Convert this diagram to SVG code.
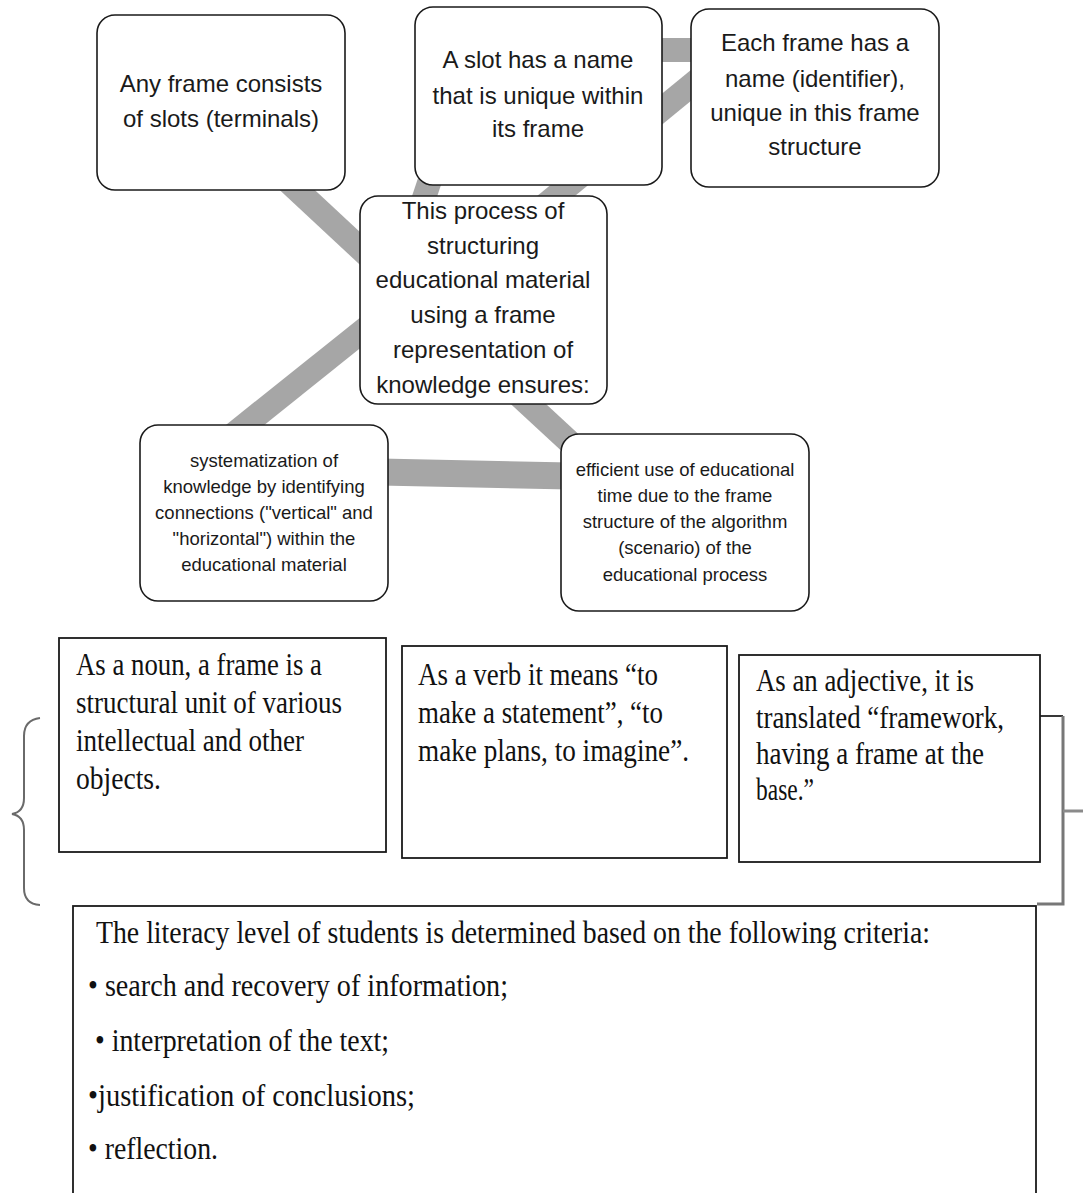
<svg xmlns="http://www.w3.org/2000/svg" width="1083" height="1193" viewBox="0 0 1083 1193">
<style>
.bg{fill:#fff}
.rbox{fill:#fff;stroke:#1a1a1a;stroke-width:1.6}
.sbox{fill:#fff;stroke:#1a1a1a;stroke-width:1.8}
.conn{stroke:#a6a6a6;stroke-width:24;fill:none}
.sans{font-family:"Liberation Sans",Arial,sans-serif;fill:#1a1a1a;text-anchor:middle}
.big{font-size:24px}
.small{font-size:18.5px}
.serif{font-family:"Liberation Serif","Times New Roman",serif;fill:#111;font-size:31px}
</style>
<rect class="bg" x="0" y="0" width="1083" height="1193"/>
<g id="connectors">
<line class="conn" x1="265" y1="160" x2="410" y2="295"/>
<line class="conn" x1="420" y1="210" x2="450" y2="120"/>
<line class="conn" x1="545" y1="205" x2="700" y2="78"/>
<line class="conn" x1="650" y1="50" x2="700" y2="50"/>
<line class="conn" x1="380" y1="317" x2="225" y2="441"/>
<line class="conn" x1="510" y1="387" x2="590" y2="461"/>
<line class="conn" x1="380" y1="472" x2="570" y2="476" style="stroke-width:27"/>
<path d="M40,718 Q24,720 24,736 L24,798 Q24,812 12,814 Q24,816 24,830 L24,888 Q24,904 40,905" fill="none" stroke="#6a6a6a" stroke-width="2"/>
<polyline points="1040,716 1063,716" fill="none" stroke="#222" stroke-width="1.8"/>
<polyline points="1063,716 1063,904 1037,904" fill="none" stroke="#777" stroke-width="3"/>
<line x1="1063" y1="811" x2="1083" y2="811" stroke="#8a8a8a" stroke-width="3"/>
</g>
<g id="n1"><rect class="rbox" x="97" y="15" width="248" height="175" rx="18"/>
<text class="sans big" x="221" y="92">Any frame consists</text>
<text class="sans big" x="221" y="127">of slots (terminals)</text></g>
<g id="n2"><rect class="rbox" x="415" y="7" width="247" height="178" rx="18"/>
<text class="sans big" x="538" y="68">A slot has a name</text>
<text class="sans big" x="538" y="104">that is unique within</text>
<text class="sans big" x="538" y="137">its frame</text></g>
<g id="n3"><rect class="rbox" x="691" y="9" width="248" height="178" rx="18"/>
<text class="sans big" x="815" y="51">Each frame has a</text>
<text class="sans big" x="815" y="87">name (identifier),</text>
<text class="sans big" x="815" y="121">unique in this frame</text>
<text class="sans big" x="815" y="155">structure</text></g>
<g id="n4"><rect class="rbox" x="360" y="196" width="247" height="208" rx="18"/>
<text class="sans big" x="483" y="219">This process of</text>
<text class="sans big" x="483" y="254">structuring</text>
<text class="sans big" x="483" y="288">educational material</text>
<text class="sans big" x="483" y="323">using a frame</text>
<text class="sans big" x="483" y="358">representation of</text>
<text class="sans big" x="483" y="393">knowledge ensures:</text></g>
<g id="n5"><rect class="rbox" x="140" y="425" width="248" height="176" rx="18"/>
<text class="sans small" x="264" y="467">systematization of</text>
<text class="sans small" x="264" y="493">knowledge by identifying</text>
<text class="sans small" x="264" y="519">connections ("vertical" and</text>
<text class="sans small" x="264" y="545">"horizontal") within the</text>
<text class="sans small" x="264" y="571">educational material</text></g>
<g id="n6"><rect class="rbox" x="561" y="434" width="248" height="177" rx="18"/>
<text class="sans small" x="685" y="476">efficient use of educational</text>
<text class="sans small" x="685" y="502">time due to the frame</text>
<text class="sans small" x="685" y="528">structure of the algorithm</text>
<text class="sans small" x="685" y="554">(scenario) of the</text>
<text class="sans small" x="685" y="581">educational process</text></g>
<g id="n7"><rect class="sbox" x="59" y="638" width="327" height="214"/>
<text class="serif" x="76" y="675" textLength="246" lengthAdjust="spacingAndGlyphs">As a noun, a frame is a</text>
<text class="serif" x="76" y="713" textLength="266" lengthAdjust="spacingAndGlyphs">structural unit of various</text>
<text class="serif" x="76" y="751" textLength="228" lengthAdjust="spacingAndGlyphs">intellectual and other</text>
<text class="serif" x="76" y="789" textLength="85" lengthAdjust="spacingAndGlyphs">objects.</text></g>
<g id="n8"><rect class="sbox" x="402" y="646" width="325" height="212"/>
<text class="serif" x="418" y="685" textLength="240" lengthAdjust="spacingAndGlyphs">As a verb it means “to</text>
<text class="serif" x="418" y="723" textLength="245" lengthAdjust="spacingAndGlyphs">make a statement”, “to</text>
<text class="serif" x="418" y="761" textLength="271" lengthAdjust="spacingAndGlyphs">make plans, to imagine”.</text></g>
<g id="n9"><rect class="sbox" x="739" y="655" width="301" height="207"/>
<text class="serif" x="756" y="691" textLength="218" lengthAdjust="spacingAndGlyphs">As an adjective, it is</text>
<text class="serif" x="756" y="728" textLength="248" lengthAdjust="spacingAndGlyphs">translated “framework,</text>
<text class="serif" x="756" y="764" textLength="228" lengthAdjust="spacingAndGlyphs">having a frame at the</text>
<text class="serif" x="756" y="800" textLength="58" lengthAdjust="spacingAndGlyphs">base.”</text></g>
<g id="n10"><rect class="sbox" x="73" y="906" width="963" height="320"/>
<text class="serif" x="96" y="943" textLength="834" lengthAdjust="spacingAndGlyphs">The literacy level of students is determined based on the following criteria:</text>
<text class="serif" x="88" y="996" textLength="420" lengthAdjust="spacingAndGlyphs">• search and recovery of information;</text>
<text class="serif" x="95" y="1051" textLength="294" lengthAdjust="spacingAndGlyphs">• interpretation of the text;</text>
<text class="serif" x="88" y="1106" textLength="327" lengthAdjust="spacingAndGlyphs">•justification of conclusions;</text>
<text class="serif" x="88" y="1159" textLength="130" lengthAdjust="spacingAndGlyphs">• reflection.</text></g>
</svg>
